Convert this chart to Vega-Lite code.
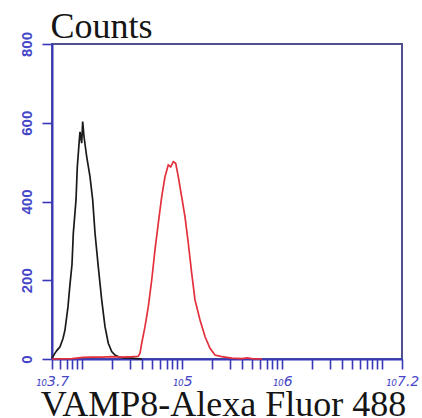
{
  "$schema": "https://vega.github.io/schema/vega-lite/v6.json",
  "autosize": {"type": "none"},
  "padding": {"left": 52, "top": 44, "right": 20, "bottom": 59},
  "width": 350,
  "height": 315,
  "background": "#ffffff",
  "view": {"stroke": "#50508f", "strokeWidth": 2},
  "data": {
    "values": [
      {"s": "control", "x": 5012, "c": 2},
      {"s": "control", "x": 5129, "c": 6},
      {"s": "control", "x": 5370, "c": 15},
      {"s": "control", "x": 5623, "c": 22},
      {"s": "control", "x": 6026, "c": 31},
      {"s": "control", "x": 6457, "c": 52},
      {"s": "control", "x": 6761, "c": 74},
      {"s": "control", "x": 7244, "c": 133},
      {"s": "control", "x": 7586, "c": 190},
      {"s": "control", "x": 7943, "c": 240},
      {"s": "control", "x": 8185, "c": 319},
      {"s": "control", "x": 8710, "c": 404},
      {"s": "control", "x": 8974, "c": 488},
      {"s": "control", "x": 9397, "c": 556},
      {"s": "control", "x": 9550, "c": 577},
      {"s": "control", "x": 9931, "c": 548},
      {"s": "control", "x": 10160, "c": 603},
      {"s": "control", "x": 10470, "c": 565},
      {"s": "control", "x": 11140, "c": 514},
      {"s": "control", "x": 12020, "c": 463},
      {"s": "control", "x": 12790, "c": 404},
      {"s": "control", "x": 13490, "c": 320},
      {"s": "control", "x": 14550, "c": 234},
      {"s": "control", "x": 15740, "c": 150},
      {"s": "control", "x": 16980, "c": 82},
      {"s": "control", "x": 18320, "c": 40},
      {"s": "control", "x": 19820, "c": 19},
      {"s": "control", "x": 21380, "c": 10},
      {"s": "control", "x": 23440, "c": 5},
      {"s": "control", "x": 26300, "c": 3},
      {"s": "control", "x": 31620, "c": 2},
      {"s": "control", "x": 35480, "c": 1},
      {"s": "control", "x": 39810, "c": 0},
      {"s": "VAMP8", "x": 5012, "c": 0},
      {"s": "VAMP8", "x": 7943, "c": 1},
      {"s": "VAMP8", "x": 10230, "c": 4},
      {"s": "VAMP8", "x": 12589, "c": 5},
      {"s": "VAMP8", "x": 15849, "c": 5},
      {"s": "VAMP8", "x": 19953, "c": 6},
      {"s": "VAMP8", "x": 25119, "c": 5},
      {"s": "VAMP8", "x": 31620, "c": 6},
      {"s": "VAMP8", "x": 36560, "c": 7},
      {"s": "VAMP8", "x": 38020, "c": 15},
      {"s": "VAMP8", "x": 39540, "c": 40},
      {"s": "VAMP8", "x": 42660, "c": 82},
      {"s": "VAMP8", "x": 46030, "c": 133},
      {"s": "VAMP8", "x": 49770, "c": 200},
      {"s": "VAMP8", "x": 53700, "c": 277},
      {"s": "VAMP8", "x": 57940, "c": 345},
      {"s": "VAMP8", "x": 62660, "c": 412},
      {"s": "VAMP8", "x": 67610, "c": 463},
      {"s": "VAMP8", "x": 72950, "c": 493},
      {"s": "VAMP8", "x": 77090, "c": 488},
      {"s": "VAMP8", "x": 81850, "c": 501},
      {"s": "VAMP8", "x": 86500, "c": 497},
      {"s": "VAMP8", "x": 91830, "c": 463},
      {"s": "VAMP8", "x": 95500, "c": 437},
      {"s": "VAMP8", "x": 99310, "c": 412},
      {"s": "VAMP8", "x": 107150, "c": 361},
      {"s": "VAMP8", "x": 115600, "c": 294},
      {"s": "VAMP8", "x": 125000, "c": 218},
      {"s": "VAMP8", "x": 134900, "c": 150},
      {"s": "VAMP8", "x": 151400, "c": 99},
      {"s": "VAMP8", "x": 169800, "c": 57},
      {"s": "VAMP8", "x": 190500, "c": 27},
      {"s": "VAMP8", "x": 213800, "c": 10},
      {"s": "VAMP8", "x": 249500, "c": 6},
      {"s": "VAMP8", "x": 279900, "c": 4},
      {"s": "VAMP8", "x": 316200, "c": 2},
      {"s": "VAMP8", "x": 398100, "c": 1},
      {"s": "VAMP8", "x": 446700, "c": 3},
      {"s": "VAMP8", "x": 501200, "c": 1},
      {"s": "VAMP8", "x": 631000, "c": 0}
    ]
  },
  "mark": {"type": "line", "strokeWidth": 1.7, "interpolate": "linear"},
  "encoding": {
    "x": {
      "field": "x",
      "type": "quantitative",
      "scale": {"type": "log", "domain": [5011.872, 15848932], "nice": false, "zero": false},
      "axis": {
        "values": [5011.872, 6000, 7000, 8000, 9000, 10000, 20000, 30000, 40000, 50000, 60000, 70000, 80000, 90000, 100000, 200000, 300000, 400000, 500000, 600000, 700000, 800000, 900000, 1000000, 2000000, 3000000, 4000000, 5000000, 6000000, 7000000, 8000000, 9000000, 10000000, 15848932],
        "labelExpr": "datum.value < 5100 ? '₁₀3.7' : datum.value == 100000 ? '₁₀5' : datum.value == 1000000 ? '₁₀6' : datum.value > 15000000 ? '₁₀7.2' : ''",
        "labelOverlap": false,
        "labelFlush": false,
        "labelFont": "DejaVu Sans",
        "labelFontStyle": "italic",
        "labelFontSize": 14,
        "labelColor": "#4646c8",
        "labelPadding": 5,
        "grid": false,
        "domainColor": "#3838b8",
        "domainWidth": 2,
        "tickColor": "#3838b8",
        "tickWidth": 1.6,
        "tickSize": 10,
        "title": "VAMP8-Alexa Fluor 488",
        "titleFont": "Liberation Serif",
        "titleFontSize": 36,
        "titleFontWeight": "normal",
        "titleColor": "#151515",
        "titleAlign": "center",
        "titleBaseline": "alphabetic",
        "titleX": 171,
        "titleY": 56
      }
    },
    "y": {
      "field": "c",
      "type": "quantitative",
      "scale": {"domain": [0, 800], "nice": false},
      "axis": {
        "values": [0, 200, 400, 600, 800],
        "labelAngle": -90,
        "labelAlign": "center",
        "labelBaseline": "bottom",
        "labelFont": "Liberation Sans",
        "labelFontWeight": "bold",
        "labelFontSize": 15,
        "labelColor": "#4646c8",
        "labelPadding": 8,
        "grid": false,
        "domainColor": "#3838b8",
        "domainWidth": 2,
        "tickColor": "#3838b8",
        "tickWidth": 1.6,
        "tickSize": 10,
        "title": "Counts",
        "titleFont": "Liberation Serif",
        "titleFontSize": 36,
        "titleFontWeight": "normal",
        "titleColor": "#151515",
        "titleAngle": 0,
        "titleAlign": "left",
        "titleBaseline": "alphabetic",
        "titleX": -2,
        "titleY": -7
      }
    },
    "color": {
      "field": "s",
      "type": "nominal",
      "scale": {"domain": ["control", "VAMP8"], "range": ["#1a1a1a", "#e3303c"]},
      "legend": null
    }
  }
}
